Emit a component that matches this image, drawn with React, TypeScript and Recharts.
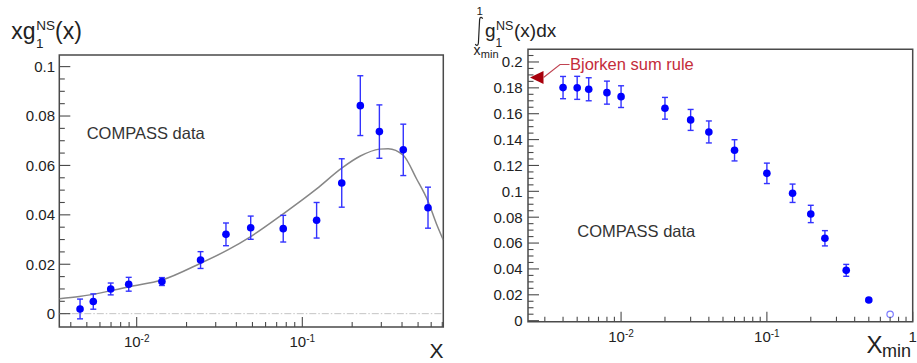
import React from 'react';
import {
  ComposedChart,
  Scatter,
  Line,
  XAxis,
  YAxis,
  ErrorBar,
  ReferenceLine,
  ReferenceArea,
} from 'recharts';

const FONT = '"Liberation Sans", Arial, Helvetica, sans-serif';
const INK = '#222';
const FRAME = '#4a4a4a';

// ---- Left panel: x g1^NS(x) ----
const xgX = [0.00455, 0.00547, 0.00697, 0.00895, 0.0142, 0.0243, 0.0346, 0.0488, 0.0767, 0.122, 0.173, 0.224, 0.292, 0.407, 0.574];
const xgY = [0.0019, 0.0049, 0.01, 0.0119, 0.013, 0.0217, 0.0321, 0.0348, 0.0344, 0.0378, 0.0529, 0.0842, 0.0737, 0.0663, 0.0429];
const xgErr = [0.004, 0.0031, 0.0024, 0.0028, 0.0016, 0.0034, 0.0046, 0.0047, 0.0054, 0.0072, 0.0098, 0.0121, 0.0108, 0.0104, 0.0083];

// fitted curve
const fitX = [0.00341, 0.0045, 0.007, 0.009, 0.0142, 0.0243, 0.0355, 0.0488, 0.0767, 0.122, 0.173, 0.224, 0.292, 0.33, 0.407, 0.49, 0.574, 0.647, 0.71];
const fitY = [0.006, 0.0069, 0.0093, 0.0109, 0.0136, 0.0204, 0.0258, 0.0312, 0.0404, 0.0505, 0.0589, 0.0638, 0.0666, 0.0668, 0.0641, 0.0545, 0.0455, 0.0362, 0.0298];

const leftXDomain = [0.00341, 0.71];
const leftYDomain = [-0.0054, 0.1047];
const leftYMajor = [0, 0.02, 0.04, 0.06, 0.08, 0.1];
const leftXMajor = [0.01, 0.1];
const leftXMinor = [0.004, 0.005, 0.006, 0.007, 0.008, 0.009, 0.02, 0.03, 0.04, 0.05, 0.06, 0.07, 0.08, 0.09, 0.2, 0.3, 0.4, 0.5, 0.6, 0.7];

// ---- Right panel: integral of g1^NS from x_min to 1 ----
const intX = [0.004, 0.005, 0.006, 0.008, 0.01, 0.02, 0.03, 0.04, 0.06, 0.1, 0.15, 0.2, 0.25, 0.35, 0.5];
const intY = [0.1802, 0.18, 0.1789, 0.1763, 0.1732, 0.1642, 0.1552, 0.1459, 0.1317, 0.1139, 0.0985, 0.0825, 0.0637, 0.0389, 0.016];
const intErr = [0.0086, 0.0089, 0.0089, 0.0089, 0.0084, 0.0084, 0.0081, 0.0085, 0.0082, 0.0079, 0.0071, 0.0067, 0.0059, 0.0046, 0.0012];
const openX = [0.7];
const openY = [0.0049];
const bjorkenSum = 0.188;

const rightXDomain = [0.0023, 1];
const rightYDomain = [-0.0008, 0.2098];
const rightYMajor = [0, 0.02, 0.04, 0.06, 0.08, 0.1, 0.12, 0.14, 0.16, 0.18, 0.2];
const rightXMajor = [0.01, 0.1, 1];
const rightXMinor = [0.003, 0.004, 0.005, 0.006, 0.007, 0.008, 0.009, 0.02, 0.03, 0.04, 0.05, 0.06, 0.07, 0.08, 0.09, 0.2, 0.3, 0.4, 0.5, 0.6, 0.7, 0.8, 0.9];

const zip = (xs: number[], ys: number[], es?: number[]) =>
  xs.map((x, i) => ({ x, y: ys[i], err: es ? es[i] : 0 }));

const xgData = zip(xgX, xgY, xgErr);
const fitData = zip(fitX, fitY);
const intData = zip(intX, intY, intErr);
const openData = zip(openX, openY);
const bjorkenData = [{ x: rightXDomain[0], y: bjorkenSum }];

// minor y ticks every 0.005 up to the last major (plus optional extra)
const yTicksFrom = (majors: number[], extra: number) => {
  const out: number[] = [];
  const top = majors[majors.length - 1] + extra;
  for (let i = 0; i * 0.005 <= top + 1e-9; i++) out.push(+(i * 0.005).toFixed(4));
  return out;
};
const leftYTicks = yTicksFrom(leftYMajor, 0);
const rightYTicks = yTicksFrom(rightYMajor, 0.005);

const findMajor = (majors: number[], v: number) => majors.find((m) => Math.abs(m - v) < 1e-9);

const YTick = (props: any) => {
  const { x, y, payload, majors, gap } = props;
  const m = findMajor(majors, payload.value);
  const isMajor = m !== undefined;
  return (
    <g>
      <line x1={x} x2={x + (isMajor ? 11 : 5.5)} y1={y} y2={y} stroke={FRAME} strokeWidth={1.1} />
      {isMajor && (
        <text x={x - gap} y={y} dy="0.36em" textAnchor="end" fontSize={15} fill={INK} fontFamily={FONT}>
          {String(m)}
        </text>
      )}
    </g>
  );
};

const decadeLabel = (v: number) => {
  if (Math.abs(v - 1) < 1e-9) return { base: '1', exp: '' };
  const e = Math.round(Math.log10(v));
  return { base: '10', exp: String(e) };
};

const XTick = (props: any) => {
  const { x, y, payload, majors } = props;
  const m = findMajor(majors, payload.value);
  const isMajor = m !== undefined;
  const lab = isMajor ? decadeLabel(m as number) : null;
  return (
    <g>
      <line x1={x} x2={x} y1={y} y2={y - (isMajor ? 10 : 5)} stroke={FRAME} strokeWidth={1.1} />
      {lab && (
        <text x={x} y={y + 20} textAnchor="middle" fontSize={15} fill={INK} fontFamily={FONT}>
          <tspan>{lab.base}</tspan>
          {lab.exp && (
            <tspan dy={-5} fontSize={10}>
              {lab.exp}
            </tspan>
          )}
        </text>
      )}
    </g>
  );
};

const Dot = (p: any) => <circle cx={p.cx} cy={p.cy} r={3.8} fill="#0000ff" />;
const OpenDot = (p: any) => <circle cx={p.cx} cy={p.cy} r={3.2} fill="#fff" stroke="#7a7aff" strokeWidth={1.2} />;

const BjorkenMark = (p: any) => {
  const tipX = p.cx + 2;
  const cy = p.cy;
  return (
    <g>
      <path d={`M${tipX},${cy} L${tipX + 13.5},${cy - 6.5} L${tipX + 13.5},${cy + 6.5} Z`} fill="#a8000c" />
      <polyline
        points={`${tipX + 13.5},${cy} ${tipX + 30},${cy - 13} ${tipX + 39.5},${cy - 13}`}
        fill="none"
        stroke="#c04452"
        strokeWidth={1.1}
      />
      <text x={tipX + 40} y={cy - 13} dy="0.36em" fontSize={16.5} fill="#c42c3a" fontFamily={FONT}>
        Bjorken sum rule
      </text>
    </g>
  );
};

const errStroke = '#3333ff';

const LeftPanel = () => (
  <ComposedChart
    width={460}
    height={363}
    margin={{ top: 55, left: 0, right: 16.7, bottom: 0 }}
    style={{ position: 'absolute', left: 0, top: 0 }}
  >
    <XAxis
      dataKey="x"
      type="number"
      scale="log"
      domain={leftXDomain}
      allowDataOverflow
      ticks={[...leftXMajor, ...leftXMinor].sort((a, b) => a - b)}
      interval={0}
      height={36}
      tickSize={0}
      tickMargin={0}
      axisLine={false}
      tick={(p: any) => <XTick {...p} majors={leftXMajor} />}
    />
    <YAxis
      type="number"
      domain={leftYDomain}
      allowDataOverflow
      ticks={leftYTicks}
      interval={0}
      width={59.3}
      tickSize={0}
      tickMargin={0}
      axisLine={false}
      tick={(p: any) => <YTick {...p} majors={leftYMajor} gap={4.3} />}
    />
    <ReferenceArea
      x1={leftXDomain[0]}
      x2={leftXDomain[1]}
      y1={leftYDomain[0]}
      y2={leftYDomain[1]}
      fill="none"
      fillOpacity={0}
      stroke={FRAME}
      strokeWidth={1.5}
    />
    <ReferenceLine y={0} stroke="#c4c4c4" strokeWidth={1} strokeDasharray="7 2 1.5 2" />
    <Line
      data={fitData}
      dataKey="y"
      type="monotone"
      dot={false}
      activeDot={false}
      stroke="#878787"
      strokeWidth={1.5}
      isAnimationActive={false}
    />
    <Scatter data={xgData} dataKey="y" shape={Dot} isAnimationActive={false}>
      <ErrorBar dataKey="err" direction="y" width={3} stroke={errStroke} strokeWidth={1.4} isAnimationActive={false} />
    </Scatter>
  </ComposedChart>
);

const RightPanel = () => (
  <ComposedChart
    width={457}
    height={363}
    margin={{ top: 49.3, left: 0, right: 4.3, bottom: 0 }}
    style={{ position: 'absolute', left: 460, top: 0 }}
  >
    <XAxis
      dataKey="x"
      type="number"
      scale="log"
      domain={rightXDomain}
      allowDataOverflow
      ticks={[...rightXMajor, ...rightXMinor].sort((a, b) => a - b)}
      interval={0}
      height={41.3}
      tickSize={0}
      tickMargin={0}
      axisLine={false}
      tick={(p: any) => <XTick {...p} majors={rightXMajor} />}
    />
    <YAxis
      type="number"
      domain={rightYDomain}
      allowDataOverflow
      ticks={rightYTicks}
      interval={0}
      width={68}
      tickSize={0}
      tickMargin={0}
      axisLine={false}
      tick={(p: any) => <YTick {...p} majors={rightYMajor} gap={5.3} />}
    />
    <ReferenceArea
      x1={rightXDomain[0]}
      x2={rightXDomain[1]}
      y1={rightYDomain[0]}
      y2={rightYDomain[1]}
      fill="none"
      fillOpacity={0}
      stroke={FRAME}
      strokeWidth={1.5}
    />
    <Scatter data={intData} dataKey="y" shape={Dot} isAnimationActive={false}>
      <ErrorBar dataKey="err" direction="y" width={3} stroke={errStroke} strokeWidth={1.4} isAnimationActive={false} />
    </Scatter>
    <Scatter data={openData} dataKey="y" shape={OpenDot} isAnimationActive={false} />
    <Scatter data={bjorkenData} dataKey="y" shape={BjorkenMark} isAnimationActive={false} />
  </ComposedChart>
);

// axis titles and annotations
const Titles = () => (
  <svg
    width={917}
    height={363}
    style={{ position: 'absolute', left: 0, top: 0, pointerEvents: 'none' }}
    fontFamily={FONT}
    fill={INK}
  >
    {/* left y title: x g_1^NS(x) */}
    <text x={11.2} y={38.5} fontSize={23}>xg</text>
    <text x={36.2} y={30} fontSize={13.5}>NS</text>
    <text x={36} y={48.2} fontSize={13.5}>1</text>
    <text x={55} y={38.5} fontSize={23}>(x)</text>

    {/* left x title */}
    <text x={443.5} y={358.3} fontSize={21} textAnchor="end">X</text>

    {/* right y title: integral from x_min to 1 of g_1^NS(x)dx */}
    <text x={476.5} y={15} fontSize={11.5}>1</text>
    <path
      d="M482.6,18.8 C481.8,16.6 479.8,17 479.6,19.6 L478.4,43 C478.2,45.8 476,46 475.4,44"
      fill="none"
      stroke={INK}
      strokeWidth={1.2}
    />
    <text x={473.6} y={55} fontSize={14}>x</text>
    <text x={480.8} y={58} fontSize={11}>min</text>
    <text x={485} y={36.7} fontSize={19}>g</text>
    <text x={496} y={30} fontSize={12.5}>NS</text>
    <text x={495.5} y={46.5} fontSize={12}>1</text>
    <text x={514} y={36.7} fontSize={19}>(x)dx</text>

    {/* right x title */}
    <text x={866.5} y={353.3} fontSize={24}>X</text>
    <text x={882} y={357} fontSize={18}>min</text>

    {/* annotations */}
    <text x={86.7} y={139.3} fontSize={16.5} fill="#333">COMPASS data</text>
    <text x={577.3} y={236.7} fontSize={16.5} fill="#333">COMPASS data</text>
  </svg>
);

export default function App() {
  return (
    <div
      style={{
        position: 'absolute',
        left: 0,
        top: 0,
        width: 917,
        height: 363,
        background: '#fff',
        overflow: 'hidden',
      }}
    >
      <LeftPanel />
      <RightPanel />
      <Titles />
    </div>
  );
}
